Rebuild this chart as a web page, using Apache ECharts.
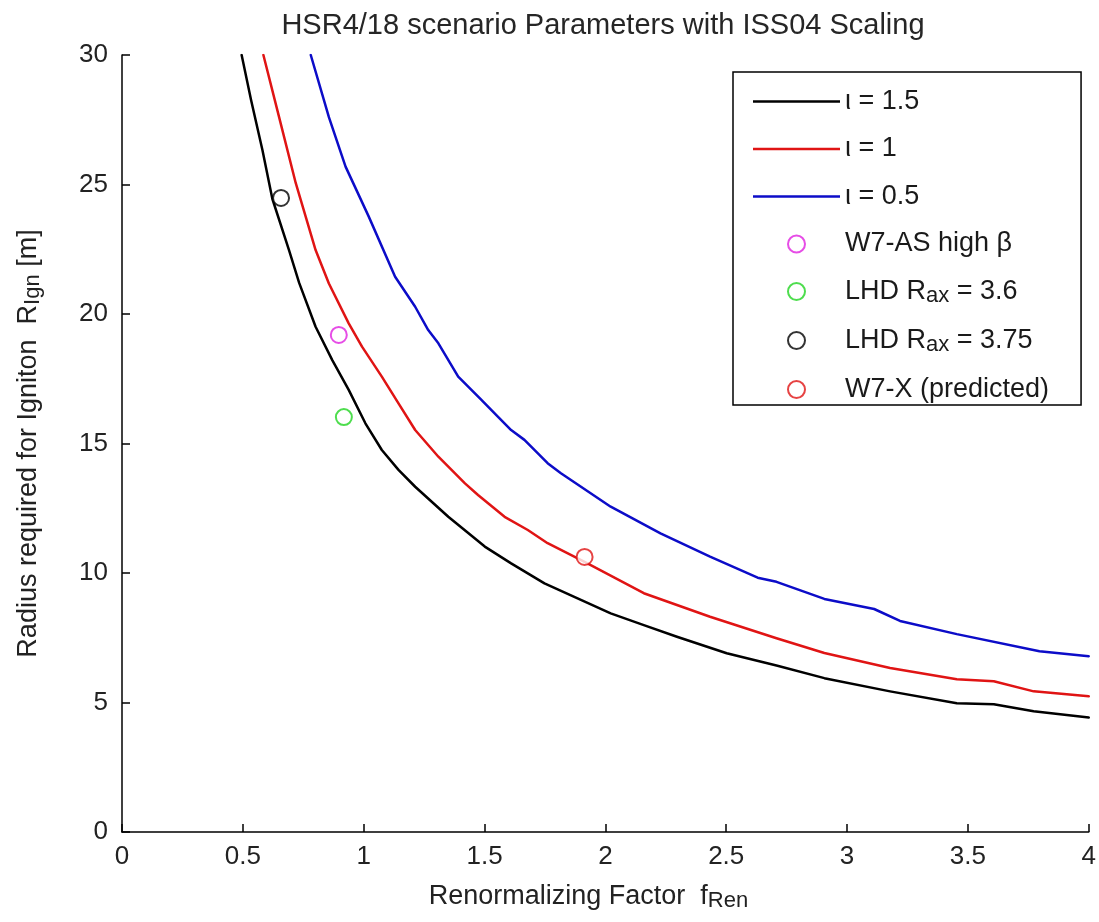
<!DOCTYPE html>
<html>
<head>
<meta charset="utf-8">
<script src="https://cdn.jsdelivr.net/npm/echarts@6/dist/echarts.min.js"></script>
<style>
html,body{margin:0;padding:0;background:#fff;}
#main{width:1099px;height:922px;}
</style>
</head>
<body>
<div id="main"></div>
<script>
// ---- data ----
const titleText = 'HSR4/18 scenario Parameters with ISS04 Scaling';
const xTicks = [0, 0.5, 1, 1.5, 2, 2.5, 3, 3.5, 4];
const yTicks = [0, 5, 10, 15, 20, 25, 30];

const tau15 = [
  [0.495, 30], [0.534, 28.26], [0.581, 26.33], [0.622, 24.45], [0.691, 22.47],
  [0.733, 21.2], [0.801, 19.51], [0.870, 18.22], [0.938, 17.07], [1.007, 15.78],
  [1.075, 14.75], [1.144, 13.98], [1.213, 13.33], [1.350, 12.17], [1.501, 11.02],
  [1.610, 10.37], [1.748, 9.6], [1.885, 9.02], [2.022, 8.44], [2.159, 7.99],
  [2.296, 7.54], [2.502, 6.90], [2.708, 6.43], [2.906, 5.94], [3.178, 5.43],
  [3.454, 4.97], [3.607, 4.93], [3.772, 4.66], [4.0, 4.42]
];
const tau10 = [
  [0.585, 30], [0.650, 27.6], [0.719, 25.05], [0.760, 23.76], [0.801, 22.47],
  [0.856, 21.18], [0.938, 19.64], [0.993, 18.74], [1.075, 17.58], [1.144, 16.55],
  [1.213, 15.52], [1.309, 14.49], [1.419, 13.46], [1.473, 13.01], [1.583, 12.17],
  [1.679, 11.66], [1.761, 11.15], [1.912, 10.44], [2.159, 9.22], [2.433, 8.31],
  [2.708, 7.48], [2.906, 6.91], [3.178, 6.33], [3.454, 5.90], [3.607, 5.82],
  [3.772, 5.43], [4.0, 5.24]
];
const tau05 = [
  [0.781, 30], [0.856, 27.6], [0.925, 25.69], [1.021, 23.76], [1.130, 21.44],
  [1.213, 20.28], [1.267, 19.38], [1.309, 18.87], [1.391, 17.58], [1.487, 16.68],
  [1.556, 16.03], [1.610, 15.52], [1.665, 15.14], [1.761, 14.24], [1.816, 13.85],
  [2.022, 12.56], [2.228, 11.53], [2.433, 10.63], [2.630, 9.82], [2.708, 9.66],
  [2.906, 9.00], [3.112, 8.61], [3.219, 8.15], [3.454, 7.64], [3.796, 6.98], [4.0, 6.79]
];
const w7asHighBeta = [[0.897, 19.19]];
const lhd36 = [[0.918, 16.02]];
const lhd375 = [[0.658, 24.48]];
const w7xPredicted = [[1.914, 10.62]];

const seriesNames = ['ι = 1.5', 'ι = 1', 'ι = 0.5', 'W7-AS high β', 'LHD R_ax = 3.6', 'LHD R_ax = 3.75', 'W7-X (predicted)'];

// ---- chart ----
const FONT = '"Liberation Sans", Arial, sans-serif';
const chart = echarts.init(document.getElementById('main'), null, {renderer: 'canvas'});

function lineSeries(name, data, color) {
  return {
    name: name, type: 'line', data: data, symbol: 'none',
    smooth: false,
    lineStyle: {color: color, width: 2.5, join: 'round', cap: 'round'}, itemStyle: {color: color},
    clip: true, z: 2
  };
}
function pointSeries(name, data, color) {
  return {
    name: name, type: 'scatter', data: data, symbol: 'emptyCircle', symbolSize: 16,
    itemStyle: {color: color, borderColor: color, borderWidth: 2.2}, z: 3
  };
}

function legendFormatter(name) {
  const i = name.indexOf('R_ax');
  if (i >= 0) {
    return '{n|' + name.slice(0, i) + 'R}{s|ax}{n|' + name.slice(i + 4) + '}';
  }
  return '{n|' + name + '}';
}

const lineIcon = 'path://M0,0 L87,0 L87,2.5 L0,2.5 Z';
const legendData = seriesNames.map(function (n, i) {
  return i < 3 ? {name: n, icon: lineIcon} : {name: n};
});

const richSub = function (color) {
  return {
    n: {fontFamily: FONT, fontSize: 27, color: color, lineHeight: 30},
    s: {fontFamily: FONT, fontSize: 22, color: color, lineHeight: 10, verticalAlign: 'bottom'}
  };
};

chart.setOption({
  backgroundColor: '#ffffff',
  animation: false,
  title: {
    text: titleText,
    left: 598, top: 6, textAlign: 'center',
    textStyle: {fontFamily: FONT, fontSize: 29, fontWeight: 'normal', color: '#262626'}
  },
  grid: {left: 122, right: 5, top: 55, bottom: 90, containLabel: false},
  legend: {
    orient: 'vertical', left: 733, top: 72,
    padding: [16, 32, 2, 20],
    itemWidth: 87, itemHeight: 17, itemGap: 20.5,
    backgroundColor: '#ffffff', borderColor: '#000000', borderWidth: 1.5,
    data: legendData,
    formatter: legendFormatter,
    textStyle: {fontFamily: FONT, color: '#1a1a1a', rich: richSub('#1a1a1a')}
  },
  xAxis: {
    type: 'value', min: 0, max: 4, interval: 0.5,
    name: '{n|Renormalizing Factor  f}{s|Ren}',
    nameLocation: 'middle', nameGap: 50,
    nameTextStyle: {padding: [0, 34, 0, 0], rich: richSub('#222')},
    axisLine: {show: true, lineStyle: {color: '#000', width: 1.5}},
    axisTick: {show: true, inside: true, length: 8, lineStyle: {color: '#000', width: 1.5}},
    axisLabel: {fontFamily: FONT, fontSize: 26, color: '#222', margin: 12,
      formatter: function (v) { return xTicks.indexOf(v) >= 0 ? String(v) : ''; }},
    splitLine: {show: false}
  },
  yAxis: {
    type: 'value', min: 0, max: 30, interval: 5,
    name: '{n|Radius required for Igniton  R}{s|Ign}{n| [m]}',
    nameLocation: 'middle', nameGap: 78,
    nameTextStyle: {rich: richSub('#222')},
    axisLine: {show: true, lineStyle: {color: '#000', width: 1.5}},
    axisTick: {show: true, inside: true, length: 8, lineStyle: {color: '#000', width: 1.5}},
    axisLabel: {fontFamily: FONT, fontSize: 26, color: '#222', margin: 14,
      formatter: function (v) { return yTicks.indexOf(v) >= 0 ? String(v) : ''; }},
    splitLine: {show: false}
  },
  series: [
    lineSeries(seriesNames[0], tau15, '#000000'),
    lineSeries(seriesNames[1], tau10, '#e01414'),
    lineSeries(seriesNames[2], tau05, '#0c0cc8'),
    pointSeries(seriesNames[3], w7asHighBeta, '#e020e0'),
    pointSeries(seriesNames[4], lhd36, '#22d422'),
    pointSeries(seriesNames[5], lhd375, '#000000'),
    pointSeries(seriesNames[6], w7xPredicted, '#e01414')
  ]
});
</script>
</body>
</html>
